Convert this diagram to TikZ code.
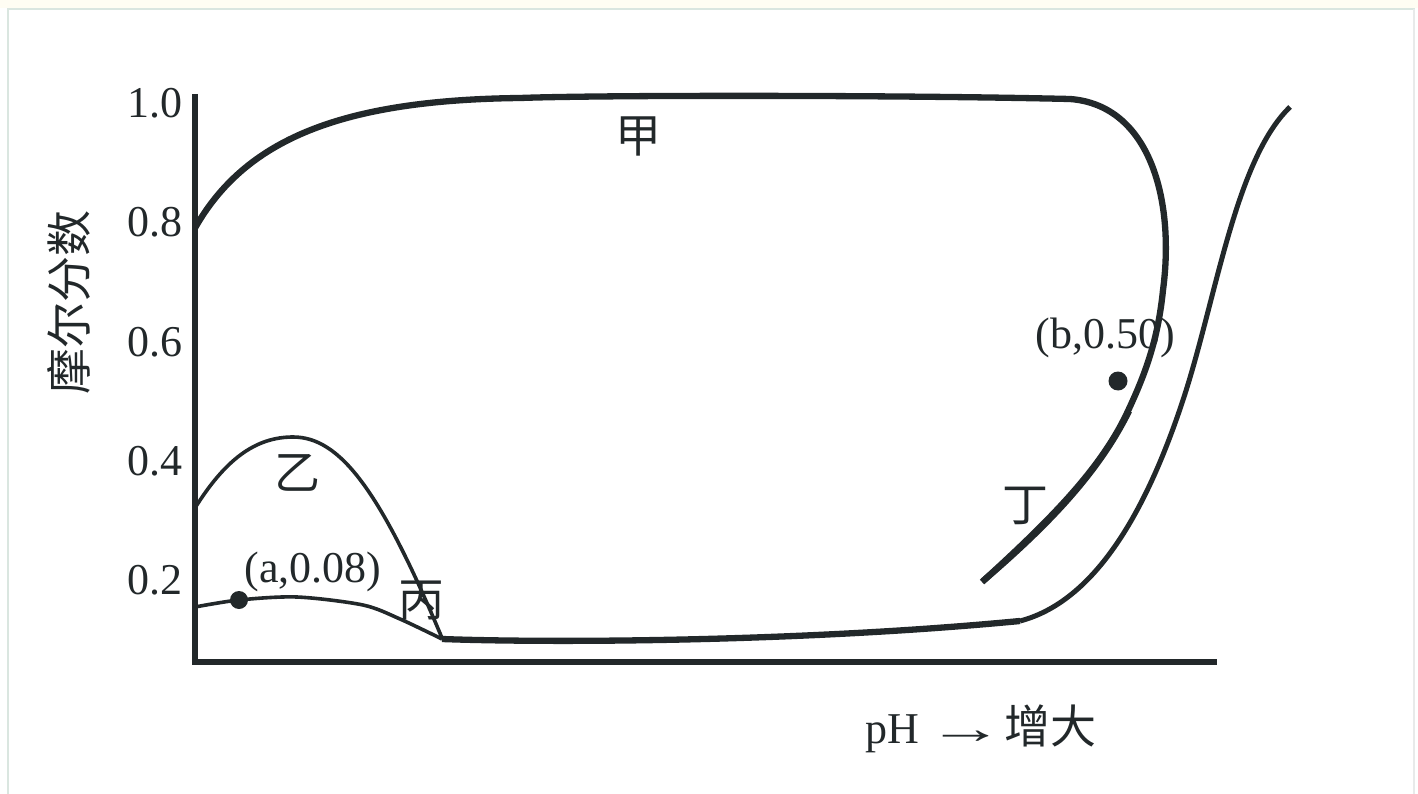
\documentclass[tikz,border=0pt]{standalone}
\usepackage{fontspec}
\setmainfont{Liberation Serif}
\newfontfamily\cjk{Noto Sans CJK SC}
\definecolor{ink}{RGB}{34,40,42}
\definecolor{cream}{RGB}{255,253,243}
\definecolor{frameline}{RGB}{218,230,224}
\definecolor{frameright}{RGB}{232,234,234}
\begin{document}
\begin{tikzpicture}[x=1pt,y=-1pt,
  thickc/.style={draw=ink,line width=6.3pt},
  thinc/.style={draw=ink,line width=3.6pt},
  midc/.style={draw=ink,line width=5pt},
  axis/.style={draw=ink,line width=6.5pt},
  tick/.style={font=\fontsize{44}{44}\selectfont,text=ink,anchor=base east,inner sep=0pt},
  lab/.style={font=\fontsize{44}{44}\selectfont,text=ink,anchor=base,inner sep=0pt},
  cjklab/.style={font=\cjk\fontsize{46}{46}\selectfont,text=ink,inner sep=0pt},
  dot/.style={fill=ink,draw=none}]
\useasboundingbox (0,0) rectangle (1418,794);
% frame
\fill[cream] (0,0) rectangle (1418,8);
\draw[frameline,line width=2pt] (7,9) -- (1415,9);
\draw[frameline,line width=2pt] (8,9) -- (8,794);
\draw[frameright,line width=1.5pt] (1414,9) -- (1414,794);
% axes
\coordinate (ytop) at (195,94);
\coordinate (origin) at (195,662);
\coordinate (xend) at (1217,662);
\draw[axis] (ytop) -- (195,665.25);
\draw[axis] (191.75,662) -- (xend);
% tick labels
\node[tick] (t10) at (183,118) {1.0};
\node[tick] (t08) at (183,237) {0.8};
\node[tick] (t06) at (183,356) {0.6};
\node[tick] (t04) at (183,475) {0.4};
\node[tick] (t02) at (183,594) {0.2};
% axis titles
\node[cjklab,rotate=90] (ylab) at (69,302) {摩尔分数};
\node[font=\fontsize{44}{44}\selectfont,text=ink,anchor=base west,inner sep=0pt] (xlab) at (865,743) {pH\hspace{9pt}\scalebox{1.75}[1]{→}\hspace{0pt}{\cjk\fontsize{46}{46}\selectfont 增大}};
% curve jia
\draw[thickc,line cap=butt] (195,228) .. controls (245,140) and (340,100) .. (520,98)
  .. controls (600,95) and (900,95) .. (1070,99)
  .. controls (1150,105) and (1175,200) .. (1163,290)
  .. controls (1158,340) and (1145,375) .. (1127,413)
  .. controls (1100,470) and (1050,520) .. (982,582);
% curve ding (overlapping)
\draw[thickc] (983,581) .. controls (1046,527) and (1098,474) .. (1129,411);
% curve yi
\draw[thinc] (195,508) .. controls (225,460) and (255,437) .. (293,437)
  .. controls (340,437) and (380,490) .. (442,638);
% curve bing
\draw[thinc] plot[smooth] coordinates {(195,607) (239,600) (297,597) (363,605) (400,619) (442,639)};
% bottom thick and right S-curve
\draw[thickc] (442,639) .. controls (550,643) and (800,642) .. (1020,621);
\draw[midc] (1020,621) .. controls (1100,600) and (1150,500) .. (1183,400)
  .. controls (1216,300) and (1235,160) .. (1290,107);
% dots
\fill[dot] (239,600) circle (9);
\fill[dot] (1118,381) circle (9.5);
% point labels
\node[lab] (pa) at (313,582) {(a,0.08)};
\node[lab] (pb) at (1105,348) {(b,0.50)};
% curve names
\node[cjklab] (jia) at (638,136) {甲};
\node[cjklab] (yi) at (297,473) {乙};
\node[cjklab] (bing) at (421,601) {丙};
\node[cjklab] (ding) at (1025,506) {丁};
\end{tikzpicture}
\end{document}
